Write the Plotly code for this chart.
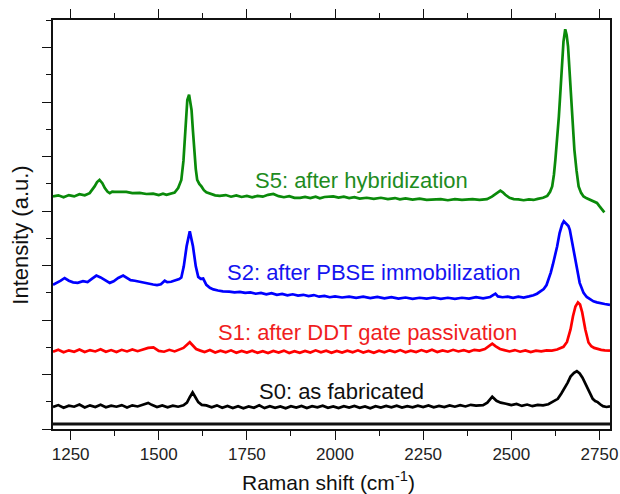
import plotly.graph_objects as go

# ---------------- data ----------------
s0_x = [1200,1215,1230,1245,1260,1275,1290,1305,1320,1335,
        1350,1365,1380,1395,1410,1425,1440,1455,1470,1480,
        1495,1510,1525,1540,1555,1570,1580,1588,1596,1604,
        1612,1622,1635,1650,1665,1680,1695,1710,1725,1740,
        1755,1770,1785,1800,1815,1830,1845,1860,1875,1890,
        1905,1920,1935,1950,1965,1980,1995,2010,2025,2040,
        2055,2070,2085,2100,2115,2130,2145,2160,2175,2190,
        2205,2220,2235,2250,2265,2280,2295,2310,2325,2340,
        2355,2370,2385,2400,2420,2432,2446,2458,2470,2485,
        2500,2515,2530,2545,2560,2575,2590,2605,2620,2632,
        2642,2650,2660,2668,2678,2686,2694,2702,2710,2717,
        2724,2731,2738,2745,2752,2760,2770,2780]
s0_y = [0.72,0.79,0.69,0.77,0.73,0.81,0.70,0.78,0.72,0.80,
        0.71,0.77,0.73,0.79,0.70,0.78,0.74,0.80,0.87,0.80,
        0.72,0.78,0.71,0.77,0.73,0.78,0.88,1.08,1.26,1.08,
        0.90,0.80,0.78,0.71,0.78,0.69,0.76,0.68,0.75,0.67,
        0.74,0.69,0.78,0.68,0.75,0.69,0.74,0.67,0.75,0.70,
        0.76,0.68,0.75,0.71,0.77,0.69,0.74,0.68,0.75,0.70,
        0.76,0.69,0.74,0.67,0.75,0.70,0.76,0.71,0.77,0.70,
        0.75,0.71,0.77,0.72,0.78,0.71,0.76,0.72,0.78,0.73,
        0.79,0.74,0.80,0.77,0.79,0.88,1.10,0.95,0.88,0.84,
        0.79,0.83,0.76,0.81,0.75,0.80,0.78,0.82,0.92,1.02,
        1.22,1.38,1.62,1.84,1.98,2.04,1.96,1.80,1.58,1.36,
        1.16,1.02,0.94,0.90,0.82,0.75,0.72,0.74]

s1_x = [1200,1215,1230,1245,1260,1275,1290,1305,1320,1335,
        1350,1365,1380,1395,1410,1425,1440,1455,1470,1485,
        1500,1515,1530,1545,1560,1570,1580,1588,1596,1606,
        1618,1630,1645,1660,1675,1690,1705,1720,1735,1750,
        1765,1780,1795,1810,1825,1840,1855,1870,1885,1900,
        1915,1930,1945,1960,1975,1990,2005,2020,2035,2050,
        2065,2080,2095,2110,2125,2140,2155,2170,2185,2200,
        2215,2230,2245,2260,2275,2290,2305,2320,2335,2350,
        2365,2380,2395,2410,2425,2436,2446,2456,2468,2480,
        2495,2510,2525,2540,2555,2570,2585,2600,2615,2630,
        2640,2648,2658,2668,2675,2682,2689,2695,2701,2710,
        2719,2727,2735,2745,2755,2765,2780]
s1_y = [2.76,2.83,2.74,2.81,2.76,2.84,2.75,2.82,2.77,2.85,
        2.76,2.82,2.75,2.83,2.77,2.84,2.78,2.85,2.90,2.92,
        2.79,2.76,2.83,2.77,2.85,2.90,3.02,3.11,3.00,2.86,
        2.80,2.75,2.82,2.73,2.80,2.74,2.81,2.72,2.79,2.73,
        2.80,2.72,2.78,2.71,2.79,2.73,2.80,2.71,2.78,2.72,
        2.79,2.73,2.81,2.74,2.80,2.72,2.79,2.73,2.80,2.74,
        2.81,2.73,2.79,2.72,2.80,2.74,2.81,2.75,2.82,2.74,
        2.80,2.75,2.82,2.76,2.83,2.75,2.81,2.76,2.83,2.77,
        2.82,2.76,2.83,2.80,2.86,2.96,3.06,2.96,2.86,2.82,
        2.77,2.82,2.76,2.81,2.75,2.80,2.77,2.81,2.80,2.84,
        2.88,2.94,3.12,3.58,4.07,4.43,4.58,4.50,4.22,3.58,
        3.10,2.96,2.90,2.86,2.83,2.81,2.80]

s2_x = [1200,1212,1222,1233,1245,1257,1270,1285,1298,1310,
        1323,1335,1348,1361,1372,1385,1399,1410,1420,1432,
        1445,1458,1470,1484,1495,1506,1517,1524,1535,1548,
        1558,1564,1571,1579,1588,1597,1605,1612,1619,1626,
        1635,1645,1655,1668,1682,1700,1715,1730,1745,1760,
        1775,1790,1805,1820,1835,1850,1865,1880,1895,1910,
        1925,1940,1955,1970,1985,2000,2020,2040,2060,2080,
        2100,2120,2140,2160,2180,2200,2220,2240,2260,2280,
        2300,2320,2340,2360,2380,2400,2420,2440,2448,2455,
        2462,2475,2490,2505,2520,2535,2550,2563,2573,2583,
        2592,2600,2606,2612,2618,2624,2630,2637,2644,2649,
        2654,2658,2662,2666,2670,2675,2680,2685,2690,2694,
        2700,2705,2714,2724,2733,2743,2755,2765,2780]
s2_y = [5.23,5.30,5.38,5.48,5.38,5.32,5.30,5.36,5.33,5.45,
        5.57,5.50,5.40,5.30,5.36,5.48,5.57,5.48,5.40,5.38,
        5.34,5.31,5.28,5.24,5.22,5.25,5.38,5.33,5.34,5.40,
        5.44,5.50,5.91,6.65,7.20,6.65,5.91,5.52,5.45,5.46,
        5.23,5.12,5.06,5.02,4.99,4.98,4.95,4.97,4.93,4.95,
        4.90,4.93,4.88,4.92,4.86,4.89,4.84,4.88,4.83,4.86,
        4.81,4.85,4.79,4.82,4.77,4.80,4.76,4.79,4.75,4.79,
        4.74,4.78,4.73,4.77,4.72,4.76,4.71,4.75,4.72,4.76,
        4.71,4.75,4.71,4.75,4.72,4.77,4.73,4.78,4.86,4.90,
        4.80,4.77,4.79,4.75,4.79,4.76,4.80,4.84,4.90,4.98,
        5.07,5.22,5.42,5.68,5.98,6.30,6.64,7.14,7.45,7.57,
        7.50,7.48,7.40,7.26,7.00,6.65,6.28,5.91,5.58,5.30,
        5.08,4.93,4.78,4.68,4.62,4.58,4.54,4.52,4.49]

s5_x = [1200,1215,1230,1245,1260,1275,1290,1304,1318,1325,
        1332,1340,1347,1355,1361,1368,1375,1390,1408,1425,
        1446,1465,1484,1500,1512,1522,1535,1545,1555,1564,
        1570,1574,1578,1581,1586,1590,1593,1597,1600,1605,
        1609,1615,1621,1628,1635,1650,1660,1673,1690,1705,
        1720,1735,1750,1765,1780,1795,1810,1825,1840,1855,
        1870,1885,1901,1915,1930,1945,1957,1970,1985,1995,
        2010,2025,2040,2055,2070,2090,2110,2130,2150,2170,
        2184,2200,2220,2240,2260,2279,2300,2320,2340,2360,
        2374,2390,2410,2431,2445,2455,2462,2469,2476,2483,
        2495,2507,2520,2535,2550,2563,2575,2590,2602,2610,
        2616,2621,2625,2630,2635,2640,2644,2648,2653,2657,
        2661,2665,2669,2674,2679,2685,2691,2698,2705,2714,
        2724,2733,2743,2750,2757,2764]
s5_y = [8.49,8.53,8.46,8.54,8.49,8.57,8.53,8.61,8.86,9.02,
        9.10,8.98,8.80,8.66,8.61,8.67,8.66,8.65,8.66,8.61,
        8.62,8.58,8.59,8.54,8.59,8.55,8.61,8.63,8.80,9.10,
        9.80,10.58,11.40,12.05,12.24,11.95,11.68,10.90,10.21,9.50,
        9.10,8.95,8.86,8.72,8.64,8.57,8.53,8.51,8.54,8.48,
        8.53,8.47,8.51,8.46,8.51,8.48,8.55,8.58,8.50,8.46,
        8.50,8.44,8.44,8.47,8.43,8.48,8.42,8.47,8.47,8.49,
        8.45,8.48,8.43,8.46,8.41,8.44,8.40,8.44,8.39,8.43,
        8.38,8.42,8.37,8.41,8.36,8.38,8.39,8.35,8.39,8.36,
        8.38,8.39,8.36,8.39,8.48,8.58,8.66,8.70,8.64,8.55,
        8.44,8.39,8.38,8.35,8.38,8.36,8.40,8.44,8.51,8.66,
        8.86,9.30,9.84,10.60,11.44,12.50,13.53,14.20,14.66,14.45,
        14.02,13.10,12.05,11.05,10.21,9.45,8.86,8.62,8.49,8.42,
        8.37,8.31,8.25,8.13,8.00,7.90]

series_names = ["S0: as fabricated", "S1: after DDT gate passivation",
                "S2: after PBSE immobilization", "S5: after hybridization"]
series_colors = ["#000000", "#ff0000", "#0000ff", "#0a8a0a"]
label_colors = ["#111111", "#f01e1e", "#1414f0", "#1e8c1e"]
x_ticks = [1250, 1500, 1750, 2000, 2250, 2500, 2750]

xs = [s0_x, s1_x, s2_x, s5_x]
ys = [s0_y, s1_y, s2_y, s5_y]

FONT = "Liberation Sans, Arial, sans-serif"

fig = go.Figure()
for x, y, c, n in zip(xs, ys, series_colors, series_names):
    fig.add_trace(go.Scatter(x=x, y=y, mode="lines", name=n,
                             line=dict(color=c, width=2.7), showlegend=False))

# label positions (paper coords)
label_pos = [(0.518, 0.092), (0.564, 0.236), (0.575, 0.382), (0.553, 0.607)]
for (px, py), n, c in zip(label_pos, series_names, label_colors):
    fig.add_annotation(x=px, y=py, xref="paper", yref="paper", text=n,
                       showarrow=False, xanchor="center", yanchor="middle",
                       font=dict(family=FONT, size=22, color=c))

# axis titles
fig.add_annotation(x=0.4946, y=-0.128, xref="paper", yref="paper",
                   text="Raman shift (cm<sup>-1</sup>)", showarrow=False,
                   xanchor="center", yanchor="middle",
                   font=dict(family=FONT, size=21, color="#111111"))
fig.add_annotation(x=-0.0575, y=0.475, xref="paper", yref="paper",
                   text="Intensity (a.u.)", showarrow=False, textangle=-90,
                   xanchor="center", yanchor="middle",
                   font=dict(family=FONT, size=22, color="#111111"))

# inner thick frame line just above the bottom axis
fig.add_shape(type="line", xref="paper", yref="y", x0=0, x1=1, y0=0.092, y1=0.092,
              line=dict(color="#111111", width=3))

fig.update_layout(
    template="none",
    width=620, height=494,
    margin=dict(l=53, r=10, t=20, b=64.5, pad=0),
    paper_bgcolor="white", plot_bgcolor="white",
    font=dict(family=FONT, color="#222222"),
)
fig.update_xaxes(
    automargin=False,
    range=[1200, 2780], tickvals=x_ticks, ticktext=[str(v) for v in x_ticks],
    ticks="outside", ticklen=9, tickwidth=1.3, tickcolor="#111111",
    minor=dict(dtick=125, tick0=1250, ticks="outside", ticklen=5,
               tickwidth=1.3, tickcolor="#111111"),
    showline=True, linecolor="#111111", linewidth=1.5, mirror="ticks",
    showgrid=False, zeroline=False,
    tickfont=dict(family=FONT, size=17, color="#222222"),
)
fig.update_yaxes(
    automargin=False,
    range=[-0.092, 15.0], tick0=-0.092, dtick=2.01,
    ticks="outside", ticklen=9, tickwidth=1.3, tickcolor="#111111",
    minor=dict(tick0=-0.092, dtick=1.005, ticks="outside", ticklen=5,
               tickwidth=1.3, tickcolor="#111111"),
    showticklabels=False,
    showline=True, linecolor="#111111", linewidth=1.8, mirror=True,
    showgrid=False, zeroline=False,
)

fig.write_html(
    "out.html",
    config={"displayModeBar": False},
    post_script="document.body.style.margin='0';document.body.style.overflow='hidden';",
)
